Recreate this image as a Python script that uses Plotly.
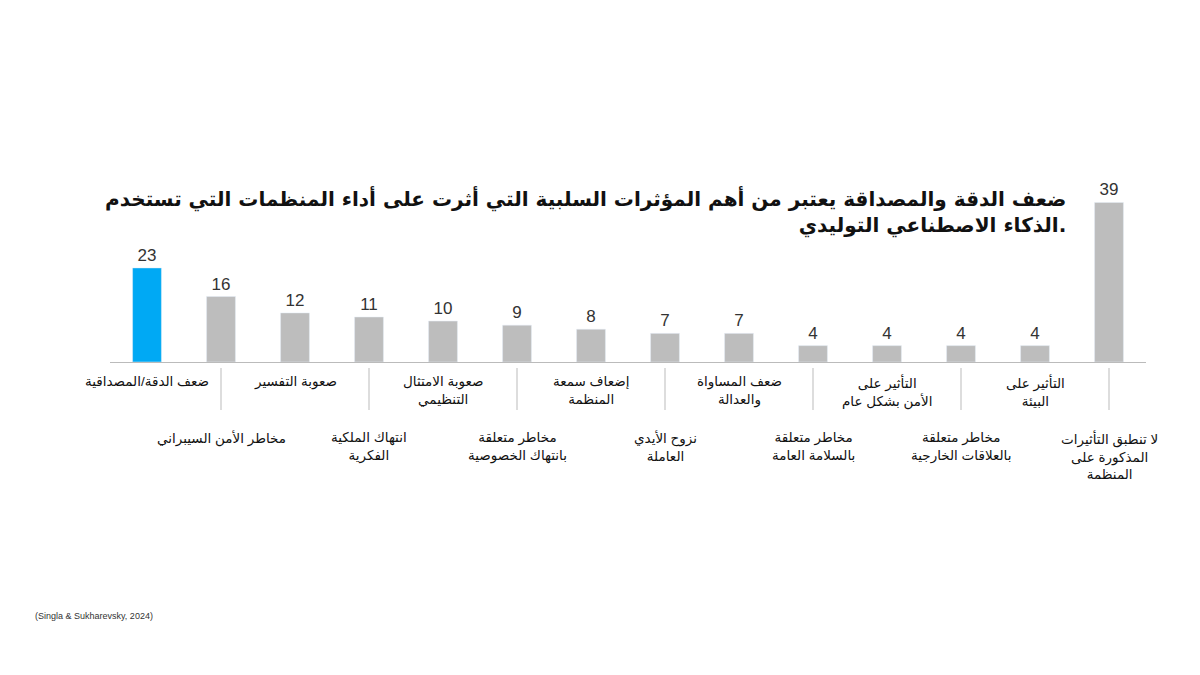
import plotly.graph_objects as go

categories = ["ضعف الدقة/المصداقية", "مخاطر الأمن السيبراني", "صعوبة التفسير",
              "انتهاك الملكية<br>الفكرية", "صعوبة الامتثال<br>التنظيمي",
              "مخاطر متعلقة<br>بانتهاك الخصوصية", "إضعاف سمعة<br>المنظمة",
              "نزوح الأيدي<br>العاملة", "ضعف المساواة<br>والعدالة",
              "مخاطر متعلقة<br>بالسلامة العامة", "التأثير على<br>الأمن بشكل عام",
              "مخاطر متعلقة<br>بالعلاقات الخارجية", "التأثير على<br>البيئة",
              "لا تنطبق التأثيرات<br>المذكورة على<br>المنظمة"]
values = [23, 16, 12, 11, 10, 9, 8, 7, 7, 4, 4, 4, 4, 39]
highlight = 0
title = "ضعف الدقة والمصداقة يعتبر من أهم المؤثرات السلبية التي أثرت على أداء المنظمات التي تستخدم<br>الذكاء الاصطناعي التوليدي."
source = "(Singla & Sukharevsky, 2024)"

idx = list(range(len(values)))
colors = ["#00A9F4" if i == highlight else "#BDBDBD" for i in idx]
FONT = "Liberation Sans, DejaVu Sans, sans-serif"
O = 8  # page offset compensation

fig = go.Figure(go.Bar(x=idx, y=values, marker_color=colors, width=0.39,
                       text=values, textposition="outside", cliponaxis=False,
                       textfont=dict(size=17, color="#333333", family=FONT)))

ann = []
shapes = []
for i, c in enumerate(categories):
    top = (i % 2 == 0)
    ann.append(dict(x=i, xref="x", y=(1 - (372 - O)/675) if top else (1 - (428 - O)/675), yref="paper",
                    text=c, showarrow=False, yanchor="top", xanchor="center",
                    font=dict(size=13.5, family=FONT, color="#111111"),
                    align="center"))
    if i % 2 == 1:
        shapes.append(dict(type="line", xref="x", yref="paper", x0=i, x1=i,
                           y0=1 - (368 - O)/675, y1=1 - (410 - O)/675,
                           line=dict(color="#BBBBBB", width=1)))
ann.append(dict(x=(1068 - O)/1200, xref="paper", y=1 - (183 - O)/675, yref="paper", text="<b>" + title + "</b>",
                showarrow=False, xanchor="right", yanchor="top", align="right",
                font=dict(size=20, family="DejaVu Sans, sans-serif", color="#111111")))
ann.append(dict(x=(33 - O)/1200, xref="paper", y=1 - (616 - O)/675, yref="paper", text=source,
                showarrow=False, xanchor="left", yanchor="middle",
                font=dict(size=9, family=FONT, color="#333333")))

fig.update_layout(
    width=1200, height=675, paper_bgcolor="white", plot_bgcolor="white",
    margin=dict(l=0, r=0, t=0, b=0), showlegend=False,
    xaxis=dict(domain=[(110 - O)/1200, (1146 - O)/1200], range=[-0.5, 13.5], showticklabels=False,
               showgrid=False, zeroline=False, showline=True, linecolor="#BBBBBB", linewidth=1),
    yaxis=dict(domain=[1 - (362 - O)/675, 1 - (182 - O)/675], range=[0, 44], visible=False),
    annotations=ann, shapes=shapes,
)
fig.write_html("out.html")
